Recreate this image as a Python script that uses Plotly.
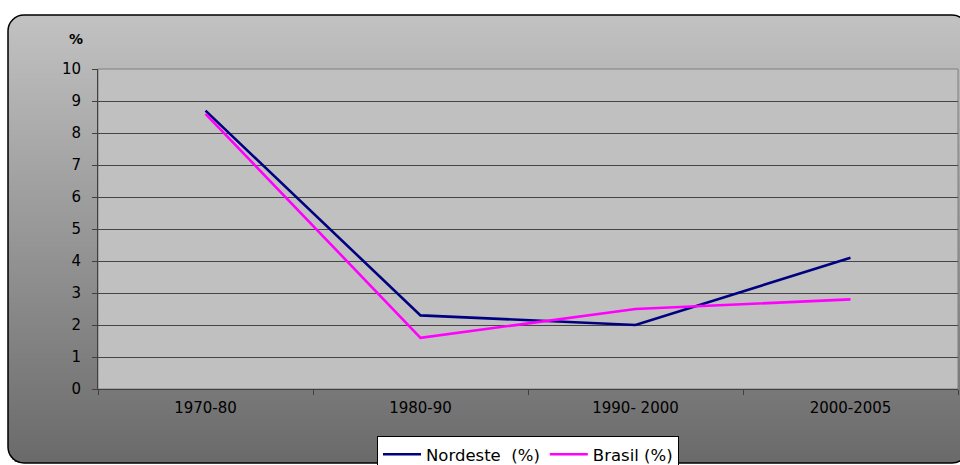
import plotly.graph_objects as go

# Growth rates by period
periods = ["1970-80", "1980-90", "1990- 2000", "2000-2005"]
nordeste = [8.7, 2.3, 2.0, 4.1]
brasil = [8.6, 1.6, 2.5, 2.8]
y_ticks = list(range(0, 11))

W, H = 960, 465

def px(x):
    return x / W

def py(y):
    return 1 - y / H

# chart frame (pixels)
fx0, fy0, fx1, fy1, rad = 8, 15, 968, 463, 16
# plot area (pixels)
ax0, ax1, ay0, ay1 = 98, 958, 69, 389

shapes = []

# vertical grey gradient inside the rounded frame, built from thin overlapping bands
top_c, bot_c = (194, 194, 194), (106, 106, 106)
step = 2
y = fy0
while y < fy1:
    y2 = min(y + step, fy1)
    ym = (y + y2) / 2
    t = (ym - fy0) / (fy1 - fy0)
    c = tuple(round(a + (b - a) * t) for a, b in zip(top_c, bot_c))
    inset = 0.0
    if ym < fy0 + rad:
        d = fy0 + rad - ym
        inset = rad - (rad ** 2 - d ** 2) ** 0.5
    elif ym > fy1 - rad:
        d = ym - (fy1 - rad)
        inset = rad - (rad ** 2 - d ** 2) ** 0.5
    shapes.append(dict(type="rect", xref="paper", yref="paper", layer="below",
                       x0=px(fx0 + inset), x1=px(fx1 - inset),
                       y0=py(min(y2 + 1, fy1)), y1=py(y),
                       fillcolor="rgb(%d,%d,%d)" % c, line=dict(width=0)))
    y = y2

# plot area background
shapes.append(dict(type="rect", xref="paper", yref="paper", layer="below",
                   x0=px(ax0), x1=px(ax1), y0=py(ay1), y1=py(ay0),
                   fillcolor="#c0c0c0", line=dict(color="#808080", width=1)))

# rounded frame outline
def frame_path():
    k = 0.5523 * rad
    pts = [
        f"M {px(fx0 + rad)},{py(fy0)}",
        f"L {px(fx1 - rad)},{py(fy0)}",
        f"C {px(fx1 - rad + k)},{py(fy0)} {px(fx1)},{py(fy0 + rad - k)} {px(fx1)},{py(fy0 + rad)}",
        f"L {px(fx1)},{py(fy1 - rad)}",
        f"C {px(fx1)},{py(fy1 - rad + k)} {px(fx1 - rad + k)},{py(fy1)} {px(fx1 - rad)},{py(fy1)}",
        f"L {px(fx0 + rad)},{py(fy1)}",
        f"C {px(fx0 + rad - k)},{py(fy1)} {px(fx0)},{py(fy1 - rad + k)} {px(fx0)},{py(fy1 - rad)}",
        f"L {px(fx0)},{py(fy0 + rad)}",
        f"C {px(fx0)},{py(fy0 + rad - k)} {px(fx0 + rad - k)},{py(fy0)} {px(fx0 + rad)},{py(fy0)}",
        "Z",
    ]
    return " ".join(pts)

shapes.append(dict(type="path", xref="paper", yref="paper", layer="above",
                   path=frame_path(), line=dict(color="#000000", width=1.5)))

fig = go.Figure()
fig.add_trace(go.Scatter(x=periods, y=nordeste, mode="lines", name="Nordeste  (%)",
                         line=dict(color="#000080", width=2.6)))
fig.add_trace(go.Scatter(x=periods, y=brasil, mode="lines", name="Brasil (%)",
                         line=dict(color="#ff00ff", width=2.6)))

FONT = "DejaVu Sans, Verdana, sans-serif"
axis_font = dict(family=FONT, size=15, color="#000000")

fig.update_layout(
    width=W, height=H,
    margin=dict(l=0, r=0, t=0, b=0, autoexpand=False),
    paper_bgcolor="#ffffff",
    plot_bgcolor="rgba(0,0,0,0)",
    shapes=shapes,
    showlegend=True,
    legend=dict(orientation="h", x=px(528), xanchor="center", y=py(436), yanchor="top",
                bgcolor="#ffffff", bordercolor="#000000", borderwidth=1,
                font=dict(family=FONT, size=16.5, color="#000000"),
                itemwidth=38, tracegroupgap=0),
    xaxis=dict(domain=[px(ax0), px(ax1)], type="category", range=[-0.5, 3.5],
               tickson="boundaries", ticks="outside", ticklen=5, tickcolor="#404040",
               showline=True, linecolor="#404040", linewidth=1,
               showgrid=False, zeroline=False, tickfont=axis_font,
               ticklabelstandoff=5, automargin=False, fixedrange=True),
    yaxis=dict(domain=[py(ay1), py(ay0)], range=[0, 10], tickvals=y_ticks,
               ticks="outside", ticklen=5, tickcolor="#404040",
               showline=True, linecolor="#404040", linewidth=1,
               showgrid=True, gridcolor="#454545", gridwidth=1, zeroline=False,
               tickfont=axis_font, ticklabelstandoff=8, automargin=False, fixedrange=True),
    annotations=[dict(text="<b>%</b>", xref="paper", yref="paper", x=px(76), y=py(39),
                      xanchor="center", yanchor="middle", showarrow=False,
                      font=dict(family=FONT, size=14, color="#000000"))],
)

fig.write_html("out.html")
